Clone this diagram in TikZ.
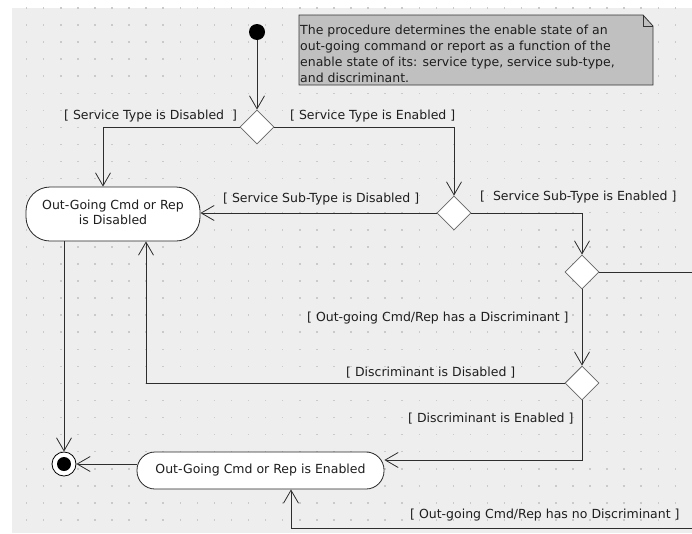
\documentclass[tikz,border=0pt]{standalone}
\usepackage{fontspec}
\setmainfont{DejaVu Sans}
\usetikzlibrary{arrows.meta,shapes.geometric,calc}

\definecolor{canvas}{HTML}{EEEEEE}
\definecolor{griddot}{HTML}{CACACA}
\definecolor{notefill}{HTML}{C0C0C0}
\definecolor{wire}{HTML}{2E2E2E}
\definecolor{ink}{HTML}{1E1E1E}

\begin{document}
\begin{tikzpicture}[x=1pt,y=-1pt,
  wire/.style={draw=wire, line width=0.8pt},
  flow/.style={wire, -{Straight Barb[length=13pt,width=15pt,line width=0.8pt]}},
  decision/.style={diamond, draw=black!60, fill=white, line width=0.8pt,
    minimum width=34pt, minimum height=34pt, inner sep=0pt},
  action/.style={rectangle, draw=black!85, fill=white, line width=0.8pt,
    inner sep=0pt, align=center, text=ink,
    font=\fontsize{12.5}{15}\selectfont},
  guard/.style={inner sep=0pt, anchor=base west, text=ink,
    font=\fontsize{12.5}{15}\selectfont},
  notebody/.style={draw=black!80, fill=notefill, line width=0.8pt}
]
\useasboundingbox (0,0) rectangle (692,533);
\fill[white] (0,0) rectangle (692,533);
\fill[canvas] (12,8) rectangle (692,533);

% dotted drawing grid
\foreach \i in {1,...,40}{
  \foreach \j in {0,...,30}{
    \fill[griddot] ({9.6+17.07*\i-0.75},{7.9+17.07*\j-0.75}) rectangle ++(1.5,1.5);
  }
}

\begin{scope}
\clip (12,8) rectangle (692,533);

% comment note with folded corner
\path[notebody] (299,15) -- (643,15) -- (653,26) -- (653,85) -- (299,85) -- cycle;
\draw[draw=black!80, line width=0.8pt] (643,15) -- (643,26) -- (653,26);
\node[inner sep=0pt, anchor=north west, align=left, text=ink,
  font=\fontsize{12.5}{16}\selectfont] (notetext) at (300,24.5)
  {The procedure determines the enable state of an\\
   out-going command or report as a function of the\\
   enable state of its: service type, service sub-type,\\
   and discriminant.};

% initial and final states
\node[circle, fill=black, minimum size=16pt, inner sep=0pt] (init) at (257,32) {};
\node[circle, draw=black, fill=white, line width=0.8pt, minimum size=24pt, inner sep=0pt] (final) at (64,464) {};
\node[circle, fill=black, minimum size=14pt, inner sep=0pt] (finaldot) at (final) {};

% decisions
\node[decision] (d1) at (257,127) {};
\node[decision] (d2) at (454,213) {};
\node[decision] (d3) at (582,272) {};
\node[decision] (d4) at (582,383) {};

% actions
\node[action, rounded corners=24pt, minimum width=174pt, minimum height=54pt] (disabled) at (113,214)
  {\raisebox{2.5pt}{\begin{tabular}{@{}c@{}}Out-Going Cmd or Rep\\is Disabled\end{tabular}}};
\node[action, rounded corners=18pt, minimum width=247pt, minimum height=37pt] (enabled) at (260.5,470.5)
  {Out-Going Cmd or Rep is Enabled};

% routing points
\coordinate (outR) at (705,272);
\coordinate (bend) at (291,528);

% flows
\draw[flow] (init) -- (d1);
\draw[flow] (d1.west) -| ($(disabled.north)+(-10,0)$);
\draw[flow] (d1.east) -| (d2.north);
\draw[flow] (d2.west) -- (d2.west -| disabled.east);
\draw[flow] (d2.east) -| (d3.north);
\draw[flow] (d3.south) -- (d4.north);
\draw[flow] (d4.west) -| ($(disabled.south)+(33,0)$);
\draw[flow] (d4.south) |- ($(enabled.east)+(0,-10.5)$);
\draw[flow] (d3.east) -- (outR) |- (bend) -- (enabled.south -| bend);
\draw[flow] (disabled.south -| final) -- (final);
\draw[flow] (enabled.west |- final) -- (final);

% guards
\node[guard] (g1) at (64,119.5) {[ Service Type is Disabled \ ]};
\node[guard] (g2) at (290,119.5) {[ Service Type is Enabled ]};
\node[guard] (g3) at (223,202.5) {[ Service Sub-Type is Disabled ]};
\node[guard] (g4) at (480,200.5) {[\ \ Service Sub-Type is Enabled ]};
\node[guard] (g5) at (307,321.5) {[ Out-going Cmd/Rep has a Discriminant ]};
\node[guard] (g6) at (346,376.5) {[ Discriminant is Disabled ]};
\node[guard] (g7) at (408,422.5) {[ Discriminant is Enabled ]};
\node[guard] (g8) at (410,518.5) {[ Out-going Cmd/Rep has no Discriminant ]};
\end{scope}
\end{tikzpicture}
\end{document}
